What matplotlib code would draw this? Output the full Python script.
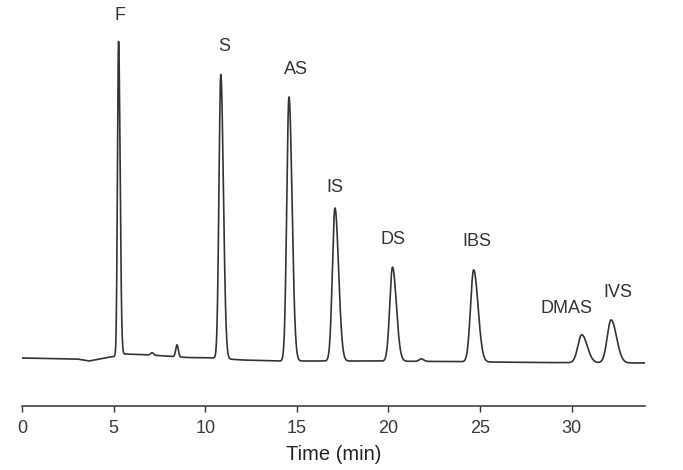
import numpy as np
import matplotlib
matplotlib.use("Agg")
import matplotlib.pyplot as plt

plt.rcParams['font.family'] = ['Liberation Sans', 'DejaVu Sans']

# Peak data (time in min, height in detector units above baseline)
peak_names = ["F", "S", "AS", "IS", "DS", "IBS", "DMAS", "IVS"]
peak_times = [5.27, 10.85, 14.57, 17.08, 20.22, 24.65, 30.55, 32.15]
peak_heights = [314, 284, 264, 153, 94, 92, 28, 43]
peak_sigmas = [0.06, 0.10, 0.12, 0.14, 0.15, 0.17, 0.21, 0.21]

# unlabeled minor peaks
minor_times = [7.1, 8.46, 21.8]
minor_heights = [2.5, 12, 2.5]
minor_sigmas = [0.08, 0.07, 0.12]

# baseline level
base_times = [0.0, 3.0, 3.66, 4.5, 5.0, 5.6, 7.0, 9.0, 10.5, 12.0, 14.0, 19.0, 23.0, 28.0, 34.0]
base_levels = [0.0, -1.0, -3.0, 0.0, 1.5, 4.0, 3.0, 0.5, 0.0, -2.0, -3.0, -3.0, -3.5, -4.5, -5.0]

xticks = [0, 5, 10, 15, 20, 25, 30]

t = np.linspace(0, 34.0, 6000)
signal = np.interp(t, base_times, base_levels)
for c, h, s in zip(peak_times, peak_heights, peak_sigmas):
    # slight tailing: wider trailing side
    sig = np.where(t < c, s, s * 1.4)
    signal += h * np.exp(-0.5 * ((t - c) / sig) ** 2)
for c, h, s in zip(minor_times, minor_heights, minor_sigmas):
    signal += h * np.exp(-0.5 * ((t - c) / s) ** 2)

fig = plt.figure(figsize=(6.83, 4.70), dpi=100)
ax = fig.add_axes([22 / 683, 64 / 470, 623 / 683, 376 / 470])
ax.plot(t, signal, color="#333333", lw=1.2)
ax.set_xlim(0, 34.0)
ax.set_ylim(-48, 328)

for sp in ["top", "right", "left"]:
    ax.spines[sp].set_visible(False)
ax.spines["bottom"].set_color("#333333")
ax.spines["bottom"].set_linewidth(1.1)
ax.set_yticks([])
ax.set_xticks(xticks)
ax.set_xticklabels([str(v) for v in xticks])
ax.tick_params(axis="x", direction="out", length=4, width=1.0, color="#333333",
               labelsize=13, labelcolor="#3a3a3a", pad=6)
ax.set_xlabel("Time (min)", fontsize=14.5, color="#222222", labelpad=6)

label_dx = {"F": 0.06, "S": 0.2, "AS": 0.4, "IS": 0.0, "DS": 0.0, "IBS": 0.15, "DMAS": -0.85, "IVS": 0.35}
label_dy = {"F": 26, "S": 28, "AS": 28, "IS": 20, "DS": 28, "IBS": 28, "DMAS": 26, "IVS": 27}
for name, c, h in zip(peak_names, peak_times, peak_heights):
    ax.annotate(name, xy=(c + label_dx[name], h + np.interp(c, base_times, base_levels)),
                xytext=(0, label_dy[name]), textcoords="offset pixels",
                ha="center", va="center", fontsize=13, color="#333333")

fig.savefig("out.png", dpi=100)
